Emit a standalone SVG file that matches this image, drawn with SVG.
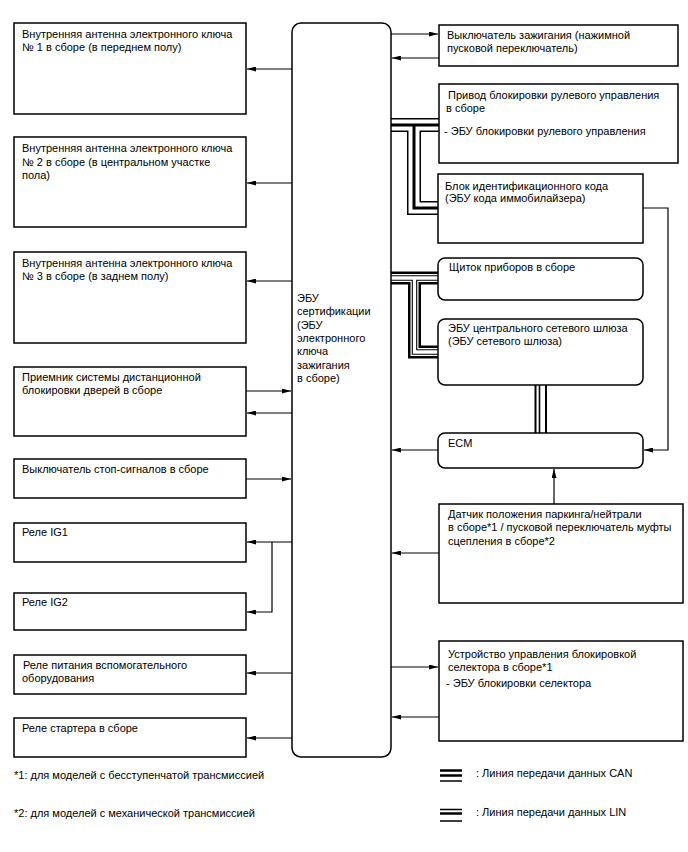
<svg xmlns="http://www.w3.org/2000/svg" width="688" height="852" viewBox="0 0 688 852">
<style>
.b{fill:#fff;stroke:#000;stroke-width:1.5}
.t{font-family:"Liberation Sans",Arial,sans-serif;font-size:11px;fill:#000}
.c{fill:none;stroke:#000;stroke-width:1.2}
.k1{fill:none;stroke:#000;stroke-width:14;stroke-linejoin:miter}
.k2{fill:none;stroke:#fff;stroke-width:11;stroke-linejoin:miter}
.k3{fill:none;stroke:#000;stroke-width:3;stroke-linejoin:miter}
.n1{fill:none;stroke:#000;stroke-width:13;stroke-linejoin:miter}
.n2{fill:none;stroke:#fff;stroke-width:8;stroke-linejoin:miter}
.n3{fill:none;stroke:#000;stroke-width:5.5;stroke-linejoin:miter}
.n4{fill:none;stroke:#fff;stroke-width:3.3;stroke-linejoin:miter}
</style>
<defs>
<marker id="a" markerWidth="9" markerHeight="5" refX="9" refY="2.5" orient="auto" markerUnits="userSpaceOnUse"><path d="M0,0 L9,2.5 L0,5 z" fill="#000"/></marker>
</defs>
<rect width="688" height="852" fill="#fff"/>
<g id="connectors">
<path class="c" d="M292,69 H247" marker-end="url(#a)"/>
<path class="c" d="M292,183 H247" marker-end="url(#a)"/>
<path class="c" d="M292,281 H247" marker-end="url(#a)"/>
<path class="c" d="M246,391 H291" marker-end="url(#a)"/>
<path class="c" d="M292,413 H247" marker-end="url(#a)"/>
<path class="c" d="M246,479 H291" marker-end="url(#a)"/>
<path class="c" d="M292,542 H247" marker-end="url(#a)"/>
<path class="c" d="M272,542 V612 H247" marker-end="url(#a)"/>
<path class="c" d="M292,673 H247" marker-end="url(#a)"/>
<path class="c" d="M292,738 H247" marker-end="url(#a)"/>
<path class="c" d="M391,34 H438" marker-end="url(#a)"/>
<path class="c" d="M439,58 H392" marker-end="url(#a)"/>
<path class="c" d="M438,450 H392" marker-end="url(#a)"/>
<path class="c" d="M643,208 H668 V450 H644" marker-end="url(#a)"/>
<path class="c" d="M439,553 H392" marker-end="url(#a)"/>
<path class="c" d="M554,504 V469" marker-end="url(#a)"/>
<path class="c" d="M391,667 H438" marker-end="url(#a)"/>
<path class="c" d="M439,717 H392" marker-end="url(#a)"/>
<g id="lin-bus">
<path class="k1" d="M391,125 H442 M414,125 V208 H442"/>
<path class="k2" d="M391,125 H442 M414,125 V208 H442"/>
<path class="k3" d="M391,125 H442 M414,125 V208 H442"/>
</g>
<g id="can-bus">
<path class="n1" d="M391,278 H442 M414.5,278 V352 H442"/>
<path class="n2" d="M391,278 H442 M414.5,278 V352 H442"/>
<path class="n3" d="M391,278 H442 M414.5,278 V352 H442"/>
<path class="n4" d="M391,278 H442 M414.5,278 V352 H442"/>
<path d="M535.5,385 V433 M546,385 V433" stroke="#000" stroke-width="2" fill="none"/>
<path d="M539.5,385 V433" stroke="#000" stroke-width="1.6" fill="none"/>
</g>
</g>
<g id="central"><rect class="b" x="292" y="23" width="99" height="734" rx="9"/>
<text class="t"><tspan x="297" y="302">ЭБУ</tspan><tspan x="297" y="315.3">сертификации</tspan><tspan x="297" y="328.6">(ЭБУ</tspan><tspan x="297" y="342">электронного</tspan><tspan x="297" y="355.3">ключа</tspan><tspan x="297" y="368.6">зажигания</tspan><tspan x="297" y="382">в сборе)</tspan></text></g>
<g id="l1"><rect class="b" x="14" y="23" width="232" height="91"/><text class="t"><tspan x="22" y="37.5">Внутренняя антенна электронного ключа</tspan><tspan x="22" y="51">№ 1 в сборе (в переднем полу)</tspan></text></g>
<g id="l2"><rect class="b" x="14" y="137" width="232" height="90"/><text class="t"><tspan x="22" y="152">Внутренняя антенна электронного ключа</tspan><tspan x="22" y="165.5">№ 2 в сборе (в центральном участке</tspan><tspan x="22" y="179">пола)</tspan></text></g>
<g id="l3"><rect class="b" x="14" y="252" width="232" height="91"/><text class="t"><tspan x="22" y="266.5">Внутренняя антенна электронного ключа</tspan><tspan x="22" y="280">№ 3 в сборе (в заднем полу)</tspan></text></g>
<g id="l4"><rect class="b" x="14" y="367" width="232" height="69"/><text class="t"><tspan x="22" y="380.5">Приемник системы дистанционной</tspan><tspan x="22" y="394">блокировки дверей в сборе</tspan></text></g>
<g id="l5"><rect class="b" x="14" y="459" width="232" height="39"/><text class="t"><tspan x="22" y="472.5">Выключатель стоп-сигналов в сборе</tspan></text></g>
<g id="l6"><rect class="b" x="14" y="523" width="232" height="39"/><text class="t"><tspan x="22" y="535.5">Реле IG1</tspan></text></g>
<g id="l7"><rect class="b" x="14" y="593" width="232" height="37"/><text class="t"><tspan x="22" y="605.5">Реле IG2</tspan></text></g>
<g id="l8"><rect class="b" x="14" y="655" width="232" height="39"/><text class="t"><tspan x="23" y="668.5">Реле питания вспомогательного</tspan><tspan x="22" y="682">оборудования</tspan></text></g>
<g id="l9"><rect class="b" x="14" y="718" width="232" height="39"/><text class="t"><tspan x="22" y="731.5">Реле стартера в сборе</tspan></text></g>
<g id="r1"><rect class="b" x="439" y="25" width="239" height="41"/><text class="t"><tspan x="447" y="38.5">Выключатель зажигания (нажимной</tspan><tspan x="447" y="52">пусковой переключатель)</tspan></text></g>
<g id="r2"><rect class="b" x="439" y="84" width="239" height="79"/><text class="t"><tspan x="448" y="98.5">Привод блокировки рулевого управления</tspan><tspan x="446" y="112">в сборе</tspan><tspan x="444" y="134.5">- ЭБУ блокировки рулевого управления</tspan></text></g>
<g id="r3"><rect class="b" x="438" y="174" width="205" height="69"/><text class="t"><tspan x="445" y="189.5">Блок идентификационного кода</tspan><tspan x="445" y="202">(ЭБУ кода иммобилайзера)</tspan></text></g>
<g id="r4"><rect class="b" x="438" y="258" width="205" height="42" rx="7"/><text class="t"><tspan x="449" y="271">Щиток приборов в сборе</tspan></text></g>
<g id="r5"><rect class="b" x="438" y="319" width="205" height="66" rx="7"/><text class="t"><tspan x="448" y="331.5">ЭБУ центрального сетевого шлюза</tspan><tspan x="448" y="344.5">(ЭБУ сетевого шлюза)</tspan></text></g>
<g id="ecm"><rect class="b" x="438" y="433" width="205" height="35" rx="7"/><text class="t"><tspan x="448" y="446.5">ECM</tspan></text></g>
<g id="r6"><rect class="b" x="439" y="504" width="244" height="99"/><text class="t"><tspan x="448" y="517.5">Датчик положения паркинга/нейтрали</tspan><tspan x="448" y="531">в сборе*1 / пусковой переключатель муфты</tspan><tspan x="448" y="544.5">сцепления в сборе*2</tspan></text></g>
<g id="r7"><rect class="b" x="439" y="641" width="244" height="100"/><text class="t"><tspan x="448" y="657.5">Устройство управления блокировкой</tspan><tspan x="448" y="671">селектора в сборе*1</tspan><tspan x="446" y="687">- ЭБУ блокировки селектора</tspan></text></g>
<g id="legend">
<text class="t" x="14" y="779">*1: для моделей с бесступенчатой трансмиссией</text>
<text class="t" x="14" y="817">*2: для моделей с механической трансмиссией</text>
<path d="M440,770.5 H462 M440,775.5 H462" stroke="#000" stroke-width="2.5"/>
<path d="M440,781 H462" stroke="#000" stroke-width="1.5"/>
<path d="M440,809.5 H462 M440,821 H462" stroke="#000" stroke-width="1.3"/>
<path d="M440,813.5 H462" stroke="#000" stroke-width="2.5"/>
<text class="t" x="476" y="777">: Линия передачи данных CAN</text>
<text class="t" x="476" y="816">: Линия передачи данных LIN</text>
</g>
</svg>
